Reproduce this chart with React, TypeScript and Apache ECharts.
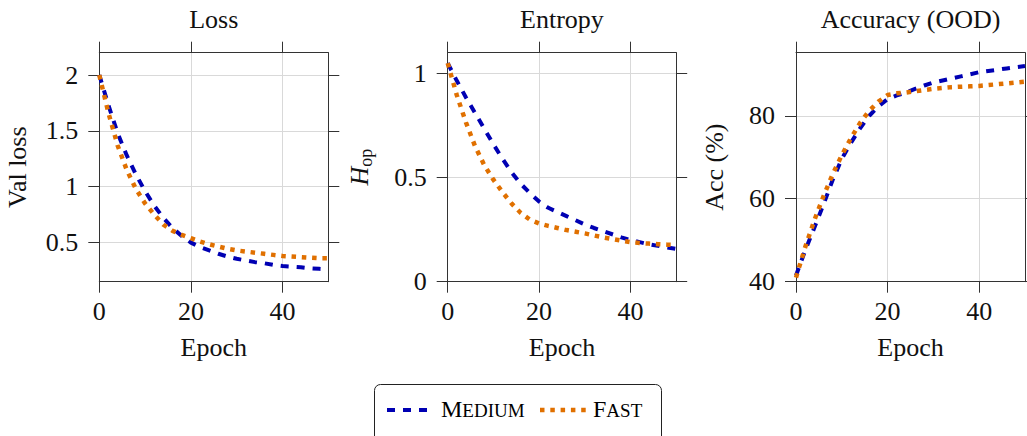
import React, { useEffect, useRef } from 'react';
import * as echarts from 'echarts';

// ---- data ----
const epochs = [0, 2, 4, 6, 8, 10, 12, 14, 16, 18, 20, 22, 24, 26, 28, 30, 32, 34, 36, 38, 40, 42, 44, 46, 48, 50];

const lossMedium = [2.0, 1.73, 1.48, 1.28, 1.11, 0.96, 0.83, 0.72, 0.63, 0.56, 0.5, 0.46, 0.43, 0.4, 0.375, 0.355, 0.34, 0.325, 0.315, 0.3, 0.29, 0.285, 0.28, 0.27, 0.265, 0.26];
const lossFast = [2.0, 1.66, 1.37, 1.15, 0.98, 0.85, 0.75, 0.66, 0.605, 0.57, 0.54, 0.51, 0.485, 0.465, 0.445, 0.43, 0.42, 0.41, 0.4, 0.39, 0.38, 0.375, 0.37, 0.365, 0.36, 0.36];

const entropyMedium = [1.05, 0.965, 0.885, 0.81, 0.735, 0.66, 0.59, 0.525, 0.47, 0.425, 0.385, 0.355, 0.335, 0.315, 0.295, 0.275, 0.258, 0.243, 0.228, 0.213, 0.2, 0.19, 0.18, 0.172, 0.165, 0.158];
const entropyFast = [1.05, 0.895, 0.765, 0.65, 0.56, 0.49, 0.43, 0.375, 0.33, 0.298, 0.28, 0.268, 0.258, 0.248, 0.24, 0.232, 0.222, 0.213, 0.205, 0.197, 0.19, 0.186, 0.183, 0.18, 0.178, 0.176];

const accMedium = [41.5, 47.5, 53.0, 58.6, 64.5, 69.6, 73.5, 77.0, 80.0, 82.3, 84.0, 84.9, 85.6, 86.5, 87.3, 88.0, 88.5, 89.0, 89.5, 90.0, 90.5, 90.8, 91.1, 91.4, 91.7, 92.0];
const accFast = [41.0, 48.3, 54.8, 60.6, 65.9, 70.5, 74.6, 78.3, 81.2, 83.4, 85.0, 85.4, 85.6, 85.9, 86.2, 86.5, 86.7, 86.9, 87.0, 87.1, 87.2, 87.4, 87.6, 87.8, 88.0, 88.2];

const epochTicks = [0, 20, 40];
const lossTicks = [0.5, 1, 1.5, 2];
const entropyTicks = [0, 0.5, 1];
const accTicks = [40, 60, 80];

const titles = ['Loss', 'Entropy', 'Accuracy (OOD)'];
const yNames = ['Val loss', '{i|H}{s|op}', 'Acc (%)'];
const seriesNames = ['Medium', 'Fast'];

// ---- styles / layout ----
const BLUE = '#0000b3';
const ORANGE = '#e07000';
const FONT = "'Liberation Serif', 'DejaVu Serif', serif";
const TEXT = '#111111';
const AXIS = '#333333';
const GRIDC = '#d9d9d9';

const panels = [
  { medium: lossMedium, fast: lossFast, yMin: 0.15, yMax: 2.2, yTicks: lossTicks, left: 99.3, width: 229, nameGap: 69 },
  { medium: entropyMedium, fast: entropyFast, yMin: 0, yMax: 1.1, yTicks: entropyTicks, left: 447.7, width: 228.5, nameGap: 72.5 },
  { medium: accMedium, fast: accFast, yMin: 40, yMax: 95.2, yTicks: accTicks, left: 796, width: 229, nameGap: 69 },
];
const TOP = 52.7;
const HEIGHT = 229;

function buildOption() {
  const grid: any[] = [];
  const xAxis: any[] = [];
  const yAxis: any[] = [];
  const series: any[] = [];
  const title: any[] = [];
  const tickStyle = { color: AXIS, width: 1 };

  panels.forEach((p, i) => {
    grid.push({ left: p.left, top: TOP, width: p.width, height: HEIGHT, containLabel: false });
    title.push({
      text: titles[i], left: p.left + p.width / 2, top: 6.5, textAlign: 'center', padding: 0,
      textStyle: { fontFamily: FONT, fontSize: 26, fontWeight: 'normal', color: TEXT },
    });
    // bottom x axis
    xAxis.push({
      type: 'value', gridIndex: i, position: 'bottom', min: 0, max: 50, z: 3,
      name: 'Epoch', nameLocation: 'middle', nameGap: 52.5,
      nameTextStyle: { fontFamily: FONT, fontSize: 26, color: TEXT },
      axisLine: { show: true, onZero: false, lineStyle: tickStyle },
      axisTick: { show: true, inside: false, length: 11, customValues: epochTicks, lineStyle: tickStyle },
      axisLabel: { show: true, margin: 17, customValues: epochTicks, fontFamily: FONT, fontSize: 26, color: TEXT },
      splitLine: { show: false },
    });
    // top x axis (frame + ticks + grid lines)
    xAxis.push({
      type: 'value', gridIndex: i, position: 'top', min: 0, max: 50, z: 1,
      axisLine: { show: true, onZero: false, lineStyle: tickStyle },
      axisTick: { show: true, inside: false, length: 11, customValues: epochTicks, lineStyle: tickStyle },
      axisLabel: { show: false },
      splitLine: { show: true, lineStyle: { color: GRIDC, width: 1 } },
    });
    // left y axis
    yAxis.push({
      type: 'value', gridIndex: i, position: 'left', min: p.yMin, max: p.yMax, z: 3,
      name: yNames[i], nameLocation: 'middle', nameGap: p.nameGap, nameRotate: 90,
      nameTextStyle: {
        fontFamily: FONT, fontSize: 26, color: TEXT,
        rich: {
          i: { fontFamily: FONT, fontSize: 26, fontStyle: 'italic', color: TEXT },
          s: { fontFamily: FONT, fontSize: 18, color: TEXT, padding: [14, 0, 0, 0] },
        },
      },
      axisLine: { show: true, onZero: false, lineStyle: tickStyle },
      axisTick: { show: true, inside: false, length: 11, customValues: p.yTicks, lineStyle: tickStyle },
      axisLabel: { show: true, margin: 21, customValues: p.yTicks, fontFamily: FONT, fontSize: 26, color: TEXT },
      splitLine: { show: false },
    });
    // right y axis
    yAxis.push({
      type: 'value', gridIndex: i, position: 'right', min: p.yMin, max: p.yMax, z: 1,
      axisLine: { show: true, onZero: false, lineStyle: tickStyle },
      axisTick: { show: true, inside: false, length: 11, customValues: p.yTicks, lineStyle: tickStyle },
      axisLabel: { show: false },
      splitLine: { show: true, lineStyle: { color: GRIDC, width: 1 } },
    });

    series.push({
      type: 'line', name: seriesNames[0], xAxisIndex: i * 2, yAxisIndex: i * 2, z: 5, silent: true,
      data: epochs.map((e, k) => [e, p.medium[k]]),
      symbol: 'none', itemStyle: { color: BLUE },
      lineStyle: { color: BLUE, width: 4, type: [8, 8], cap: 'butt' },
    });
    series.push({
      type: 'line', name: seriesNames[1], xAxisIndex: i * 2, yAxisIndex: i * 2, z: 6, silent: true,
      data: epochs.map((e, k) => [e, p.fast[k]]),
      symbol: 'none', itemStyle: { color: ORANGE },
      lineStyle: { color: ORANGE, width: 4.5, type: [4.5, 5.8], cap: 'butt' },
    });
  });

  const legendRich = {
    a: { fontFamily: FONT, fontSize: 24, color: TEXT, verticalAlign: 'bottom' },
    b: { fontFamily: FONT, fontSize: 19, color: TEXT, verticalAlign: 'bottom', padding: [0, 0, 1, 0] },
  };

  const graphic = [
    {
      type: 'rect', silent: true,
      shape: { x: 374.5, y: 384.5, width: 287, height: 60, r: 6 },
      style: { fill: 'none', stroke: '#222', lineWidth: 1 },
    },
    {
      type: 'line', silent: true,
      shape: { x1: 387, y1: 410, x2: 427, y2: 410 },
      style: { stroke: BLUE, lineWidth: 4, lineDash: [8, 8] },
    },
    {
      type: 'text', silent: true, x: 441, y: 420.6,
      style: { text: '{a|M}{b|EDIUM}', rich: legendRich, verticalAlign: 'bottom', align: 'left' },
    },
    {
      type: 'line', silent: true,
      shape: { x1: 540, y1: 410, x2: 586, y2: 410 },
      style: { stroke: ORANGE, lineWidth: 4.5, lineDash: [4.5, 5.8] },
    },
    {
      type: 'text', silent: true, x: 593, y: 420.6,
      style: { text: '{a|F}{b|AST}', rich: legendRich, verticalAlign: 'bottom', align: 'left' },
    },
  ];

  return {
    animation: false,
    backgroundColor: '#ffffff',
    title,
    grid,
    xAxis,
    yAxis,
    series,
    graphic,
  };
}

export default function App() {
  const ref = useRef<HTMLDivElement>(null);
  useEffect(() => {
    if (!ref.current) return;
    const chart = echarts.init(ref.current, null, { renderer: 'svg' });
    chart.setOption(buildOption() as any);
    return () => chart.dispose();
  }, []);
  return (
    <div
      ref={ref}
      style={{ position: 'absolute', left: 0, top: 0, width: 1027, height: 436 }}
    />
  );
}
